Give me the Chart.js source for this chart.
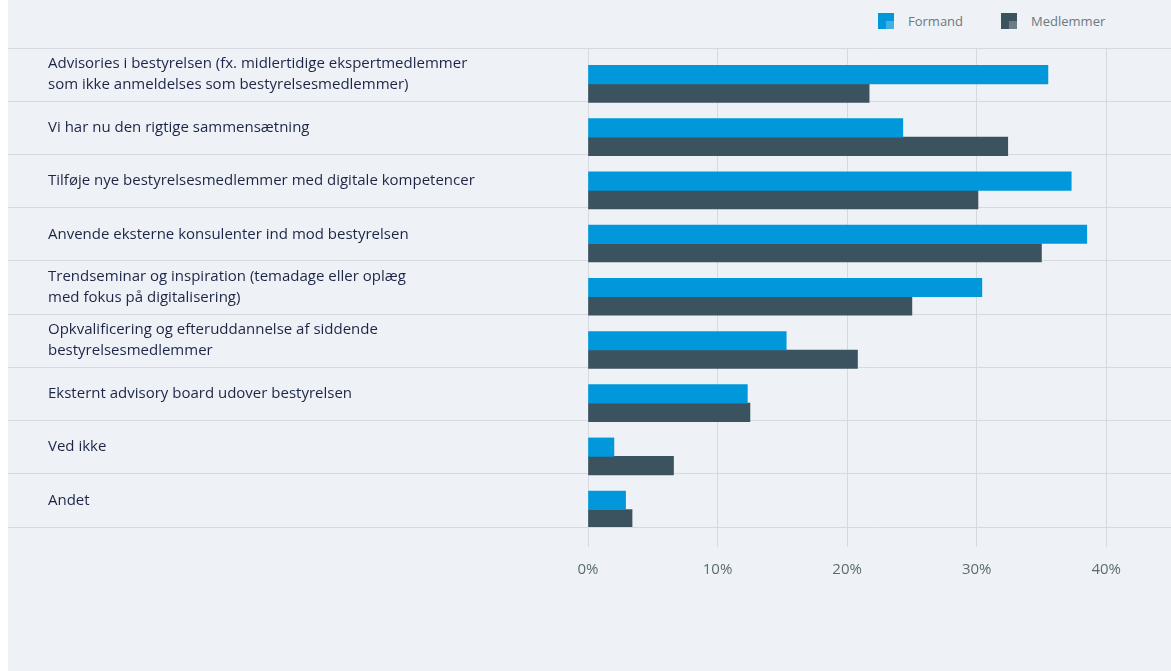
<!DOCTYPE html>
<html lang="da">
<head>
<meta charset="utf-8">
<title>Bestyrelsens kompetencer</title>
<script src="https://cdn.jsdelivr.net/npm/chart.js@4.4.1/dist/chart.umd.min.js"></script>
<style>
  html, body { margin: 0; padding: 0; background: #ffffff; }
  .panel { position: absolute; left: 8px; top: 0; width: 1163px; height: 671px; background: #eef2f6; }
  .legend { position: absolute; top: 13px; left: 870px; display: flex; align-items: center;
            font-family: "Open Sans", sans-serif; font-size: 13px; color: #6b7880; }
  .legend-item { display: flex; align-items: center; margin-right: 38px; height: 16px; }
  .swatch { position: relative; width: 16px; height: 16px; margin-right: 14px; }
  .swatch span { position: absolute; right: 0; bottom: 0; width: 8px; height: 8px; }
  .chart-box { position: absolute; left: 0; top: 0; width: 1163px; height: 671px; }
</style>
</head>
<body>
<div class="panel">
  <div class="legend" id="legend"></div>
  <div class="chart-box"><canvas id="canvas-chart"></canvas></div>
</div>
<script>
// Kategorier og værdier (procent)
const categories = [
  ["Advisories i bestyrelsen (fx. midlertidige ekspertmedlemmer", "som ikke anmeldelses som bestyrelsesmedlemmer)"],
  "Vi har nu den rigtige sammensætning",
  "Tilføje nye bestyrelsesmedlemmer med digitale kompetencer",
  "Anvende eksterne konsulenter ind mod bestyrelsen",
  ["Trendseminar og inspiration (temadage eller oplæg", "med fokus på digitalisering)"],
  ["Opkvalificering og efteruddannelse af siddende", "bestyrelsesmedlemmer"],
  "Eksternt advisory board udover bestyrelsen",
  "Ved ikke",
  "Andet",
];
const formand = [35.5, 24.3, 37.3, 38.5, 30.4, 15.3, 12.3, 2.0, 2.9];
const medlemmer = [21.7, 32.4, 30.1, 35.0, 25.0, 20.8, 12.5, 6.6, 3.4];
// tom serie der skubber søjlerne ned i hver række
const spacer = [0, 0, 0, 0, 0, 0, 0, 0, 0];
const xTicks = [0, 10, 20, 30, 40];
const seriesNames = ["Formand", "Medlemmer"];

const barColors = ["#0098db", "#3b535e"];
const swatchAccent = ["#3fb1e6", "#6b7e87"];
const gridColor = "#d6dadf";

// Legende
const legend = document.getElementById("legend");
seriesNames.forEach((name, i) => {
  const item = document.createElement("div");
  item.className = "legend-item";
  item.innerHTML =
    `<div class="swatch" style="background:${barColors[i]}"><span style="background:${swatchAccent[i]}"></span></div>` +
    `<div>${name}</div>`;
  legend.appendChild(item);
});

const ctx = document.getElementById("canvas-chart").getContext("2d");

new Chart(ctx, {
  type: "bar",
  data: {
    labels: categories,
    datasets: [
      { label: "", data: spacer, backgroundColor: "rgba(0,0,0,0)" },
      { label: seriesNames[0], data: formand, backgroundColor: barColors[0] },
      { label: seriesNames[1], data: medlemmer, backgroundColor: barColors[1] },
    ],
  },
  options: {
    indexAxis: "y",
    responsive: true,
    maintainAspectRatio: false,
    animation: false,
    barThickness: 18.5,
    borderWidth: 0,
    layout: { padding: { top: 48, left: 40, right: 0, bottom: 0 } },
    plugins: {
      legend: { display: false },
      tooltip: { enabled: false },
    },
    scales: {
      x: {
        min: 0,
        max: 45,
        afterBuildTicks: (axis) => {
          axis.ticks = xTicks.map((v) => ({ value: v }));
        },
        afterFit: (scale) => {
          scale.height = 144;
        },
        grid: { color: gridColor, tickLength: 20 },
        border: { display: false },
        ticks: {
          color: "#5b6b74",
          padding: 14,
          font: { family: "Open Sans", size: 15 },
          callback: (v) => v + "%",
        },
      },
      y: {
        afterFit: (scale) => {
          scale.width = 540;
        },
        grid: { color: gridColor, tickLength: 580, offset: true },
        border: { display: false },
        ticks: {
          crossAlign: "far",
          color: "#1d2547",
          padding: 0,
          autoSkip: false,
          font: { family: "Open Sans", size: 15, lineHeight: 1.4 },
        },
      },
    },
  },
});
</script>
</body>
</html>
